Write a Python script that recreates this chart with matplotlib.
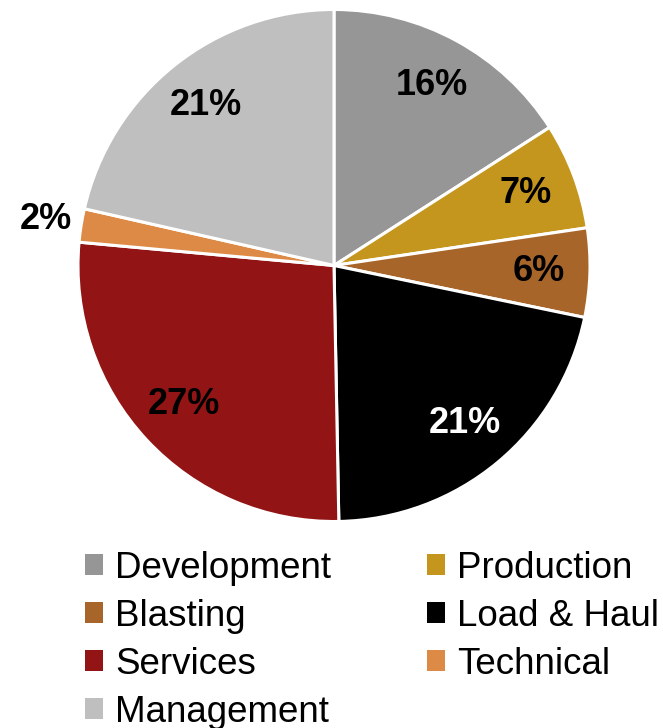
import matplotlib.pyplot as plt
from matplotlib.patches import Patch

categories = ["Development", "Production", "Blasting", "Load & Haul",
              "Services", "Technical", "Management"]
shares = [15.9, 6.7, 5.6, 21.4, 26.7, 2.1, 21.4]
colors = ["#969696", "#C4961E", "#A8652A", "#000000",
          "#931414", "#DC8A45", "#BFBFBF"]
label_colors = ["black", "black", "black", "white", "black", "black", "black"]

plt.rcParams['font.family'] = ['Liberation Sans', 'DejaVu Sans']

fig = plt.figure(figsize=(6.63, 7.28), dpi=100)
cx, cy, r = 334 / 663, (728 - 265.5) / 728, 256
ax = fig.add_axes([cx - r / 663, cy - r / 728, 2 * r / 663, 2 * r / 728])

wedges, texts, autotexts = ax.pie(
    shares, colors=colors, startangle=90, counterclock=False,
    autopct=lambda p: '%.0f%%' % p, pctdistance=0.8,
    wedgeprops=dict(edgecolor='white', linewidth=2.2),
    textprops=dict(fontsize=26, fontweight='bold'))
ax.set_xlim(-1, 1)
ax.set_ylim(-1, 1)
ax.set_aspect('equal')

for t, c in zip(autotexts, label_colors):
    t.set_color(c)

# small slice label sits outside
x, y = autotexts[5].get_position()
autotexts[5].set_position((x / 0.8 * 1.14, y / 0.8 * 1.14))

# row-major legend order
order = [0, 2, 4, 6, 1, 3, 5]
handles = [Patch(facecolor=colors[i], edgecolor='none') for i in order]
labels = [categories[i] for i in order]
fig.legend(handles, labels, ncol=2, loc='upper left',
           bbox_to_anchor=(85 / 663, 1 - 551 / 728),
           frameon=False, fontsize=26.5, borderpad=0, borderaxespad=0,
           handlelength=0.5, handleheight=0.5, handletextpad=0.32,
           columnspacing=2.6, labelspacing=0.35)

fig.savefig("out.png", dpi=100)
